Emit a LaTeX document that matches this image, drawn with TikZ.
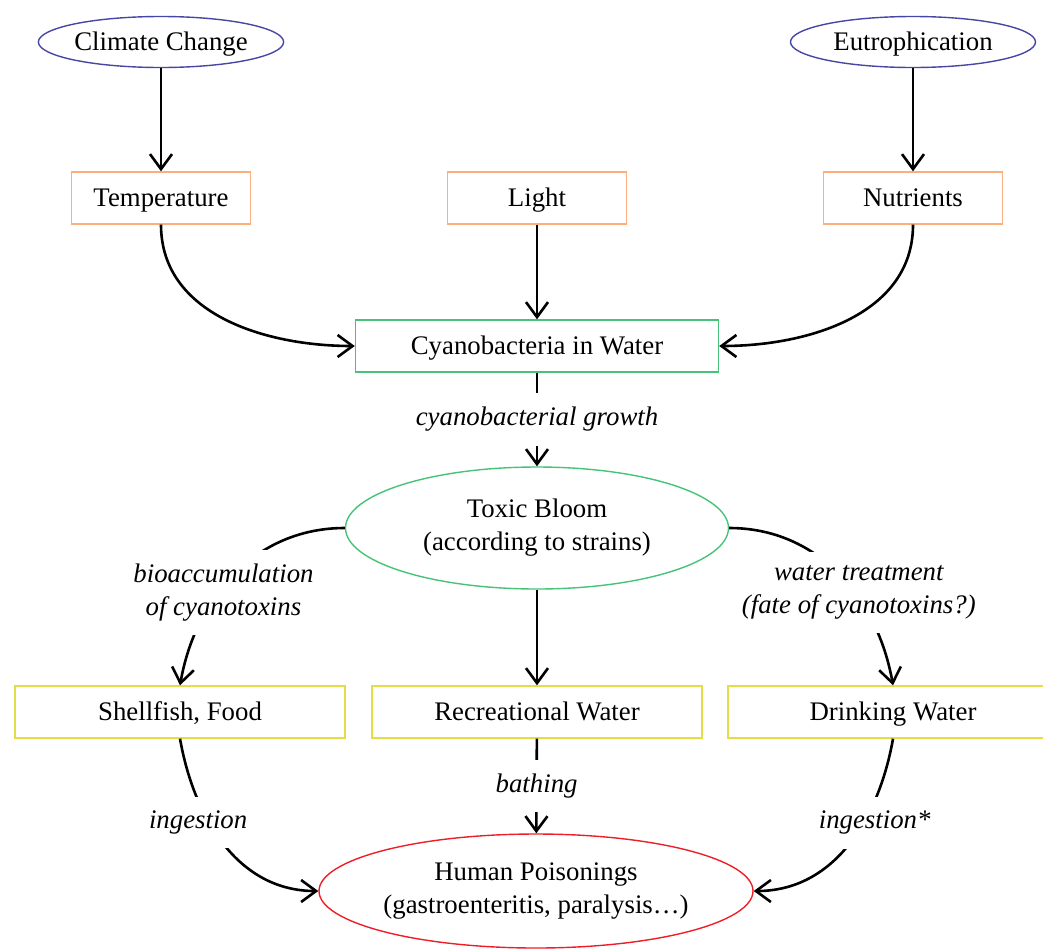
\documentclass[tikz,border=0pt]{standalone}
\usepackage{fontspec}
\setmainfont{Liberation Serif}
\usetikzlibrary{arrows.meta,shapes.geometric}
\tikzset{>/.tip={Straight Barb[length=7.5pt,width=11pt]}}

\definecolor{causeblue}{RGB}{70,70,165}
\definecolor{factororange}{RGB}{250,175,125}
\definecolor{bloomgreen}{RGB}{70,195,120}
\definecolor{wateryellow}{RGB}{228,222,70}
\definecolor{poisonred}{RGB}{238,30,40}

\begin{document}
\begin{tikzpicture}[x=0.5pt,y=0.5pt,
  every node/.style={font=\fontsize{13.4}{16.5}\selectfont, align=center},
  oneline/.style={text height=10pt,text depth=1.5pt},
  oval/.style={ellipse,draw,line width=0.7pt,inner sep=0pt},
  box/.style={rectangle,draw,line width=0.7pt,minimum width=#1,minimum height=26pt,inner sep=0pt,oneline},
  lbl/.style={fill=white,font=\fontsize{13.4}{16.5}\selectfont\itshape,inner sep=7pt},
  link/.style={->,line width=1.3pt}]
\useasboundingbox (0,0) rectangle (1043,-948);

\node[oval,oneline,draw=causeblue,minimum width=122.5pt,minimum height=25.5pt] (climate) at (161,-42) {Climate Change};
\node[oval,oneline,draw=causeblue,minimum width=122.5pt,minimum height=25.5pt] (eutro) at (913,-42) {Eutrophication};

\node[box=89.5pt,draw=factororange] (temp) at (161,-198) {Temperature};
\node[box=89.5pt,draw=factororange] (light) at (537,-198) {Light};
\node[box=89.5pt,draw=factororange] (nutr) at (913,-198) {Nutrients};

\node[box=181.5pt,draw=bloomgreen] (cyano) at (537,-346) {Cyanobacteria in Water};
\node[oval,draw=bloomgreen,minimum width=191.5pt,minimum height=61pt] (bloom) at (537,-528) {Toxic Bloom\\(according to strains)};

\node[box=165pt,draw=wateryellow] (shell) at (180,-712) {Shellfish, Food};
\node[box=165pt,draw=wateryellow] (recre) at (537,-712) {Recreational Water};
\node[box=165pt,draw=wateryellow] (drink) at (893,-712) {Drinking Water};

\node[oval,draw=poisonred,minimum width=217pt,minimum height=57pt] (human) at (536,-891) {Human Poisonings\\(gastroenteritis, paralysis…)};

% causes and factors
\path[link] (climate) edge (temp);
\path[link] (eutro) edge (nutr);
\path[link] (light) edge (cyano);
\path[link] (temp.south) edge[out=-90,in=180] (cyano.west);
\path[link] (nutr.south) edge[out=-90,in=0] (cyano.east);

% bloom and exposure routes
\path[link] (cyano) edge node[lbl] {cyanobacterial growth} (bloom);
\path[link] (bloom.west) edge[out=180,in=80] node[lbl,pos=0.57,yshift=-3pt] {bioaccumulation\\of cyanotoxins} (shell.north);
\path[link] (bloom) edge (recre);
\path[link] (bloom.east) edge[out=0,in=100] node[lbl,pos=0.57,xshift=4.5pt,yshift=-3pt] {water treatment\\(fate of cyanotoxins?)} (drink.north);

\path[link] (shell.south) edge[out=-80,in=180] node[lbl,pos=0.37,xshift=-5pt,yshift=-1pt] {ingestion} (human.west);
\path[link] (recre) edge node[lbl] {bathing} (human);
\path[link] (drink.south) edge[out=-100,in=0] node[lbl,pos=0.37,xshift=5pt,yshift=-1pt] {ingestion*} (human.east);
\end{tikzpicture}
\end{document}
